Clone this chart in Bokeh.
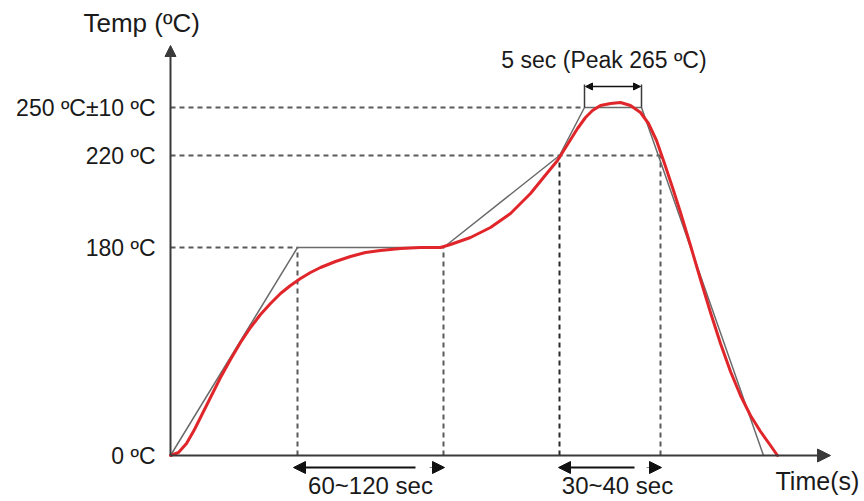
from bokeh.plotting import figure
from bokeh.models import Range1d, Arrow, NormalHead
from bokeh.core.properties import value
from bokeh.embed import file_html
from bokeh.resources import INLINE

# ---------------- data (schematic diagram units, not to scale) ----------------
temp_labels = ["0 ºC", "180 ºC", "220 ºC", "250 ºC±10 ºC"]
temp_levels = [0, 208, 300, 348]          # schematic height of each level
peak_bracket_top = 371

# red reflow profile (schematic time, schematic height)
profile_t = [0, 8, 16, 24, 32, 40, 50, 60, 70, 80, 90, 100, 110, 120, 130, 140, 150,
             165, 180, 195, 210, 230, 250, 270, 280, 300, 320, 340, 360, 373, 387,
             397, 407, 415, 422, 430, 440, 450, 460, 470, 478, 486, 494, 502, 510,
             520, 530, 540, 550, 560, 570, 580, 590, 600, 607]
profile_y = [0, 3, 12, 26, 42, 58, 78, 96, 113, 128, 141, 152, 162, 170, 177, 183, 188,
             194, 199, 203, 205, 207, 208, 208, 211, 218, 228, 242, 262, 278, 295,
             311, 327, 338, 345, 350, 352, 353, 350, 343, 332, 315, 292, 268, 243,
             210, 176, 143, 112, 84, 60, 40, 24, 10, 0]

# grey idealised ramp/soak/peak/cool profile
ramp_t = [0, 127, 273, 389, 414, 471, 593]
ramp_y = [0, 208, 208, 300, 348, 348, 0]

soak_window = [127, 273]   # 60~120 sec
tal_window = [389, 490]    # 30~40 sec (above 220 ºC)
peak_window = [414, 471]   # 5 sec at peak

window_labels = ["60~120 sec", "30~40 sec"]
peak_label = "5 sec (Peak 265 ºC)"
x_title = "Time(s)"
y_title = "Temp (ºC)"
axis_end = [660, 410]

# ---------------- styling ----------------
FONT = value("Liberation Sans")
TXT = "#1a1a1a"
AX = "#3a3a3a"
DASH = "#5a5a5a"
RED = "#e0262a"
GREY = "#6a6a6a"

p = figure(width=864, height=501,
           x_range=Range1d(-170, 694), y_range=Range1d(-46, 455),
           x_axis_type=None, y_axis_type=None,
           toolbar_location=None, output_backend="svg",
           min_border=0, title=None)
p.outline_line_color = None
p.background_fill_color = "white"
p.border_fill_color = "white"

l180, l220, l250 = temp_levels[1], temp_levels[2], temp_levels[3]

# dashed guide lines (horizontal)
p.segment(x0=[0, 0, 0], y0=[l180, l220, l250],
          x1=[soak_window[0], tal_window[1], peak_window[0]], y1=[l180, l220, l250],
          line_color=DASH, line_width=2, line_dash="5 4")
# dashed guide lines (vertical)
p.segment(x0=[soak_window[0], soak_window[1], tal_window[0], tal_window[1]],
          y0=[0, 0, 0, 0],
          x1=[soak_window[0], soak_window[1], tal_window[0], tal_window[1]],
          y1=[l180, l180, l220, l220],
          line_color=[DASH, DASH, "#2a2a2a", DASH], line_width=2, line_dash="5 4")

# grey ideal profile
p.line(ramp_t, ramp_y, line_color=GREY, line_width=1.5)

# peak bracket
p.segment(x0=peak_window, y0=[l250, l250], x1=peak_window,
          y1=[peak_bracket_top, peak_bracket_top], line_color=AX, line_width=1.5)


def head(sz, c=AX):
    return NormalHead(size=sz, fill_color=c, line_color=c)


p.add_layout(Arrow(start=head(7, "#111"), end=head(7, "#111"),
                   x_start=peak_window[0] + 1, y_start=peak_bracket_top - 2,
                   x_end=peak_window[1] - 1, y_end=peak_bracket_top - 2,
                   line_color="#111", line_width=1.5))

# red measured profile
p.line(profile_t, profile_y, line_color=RED, line_width=3, line_join="round",
       line_cap="round")

# axes with arrow heads
p.add_layout(Arrow(end=head(13), x_start=0, y_start=0, x_end=axis_end[0], y_end=0,
                   line_color=AX, line_width=2))
p.add_layout(Arrow(end=head(11), x_start=0, y_start=0, x_end=0, y_end=axis_end[1],
                   line_color=AX, line_width=2))

# window arrows under the time axis
ya = -12
for w, gap, tipoff in ((soak_window, 28, -4), (tal_window, 26, -1)):
    p.add_layout(Arrow(end=head(12, "#111"), x_start=w[1] - gap, y_start=ya,
                       x_end=w[0] + tipoff, y_end=ya, line_color="#111", line_width=2))
    p.add_layout(Arrow(end=head(12, "#111"), x_start=w[1] - 14, y_start=ya,
                       x_end=w[1] + 1, y_end=ya, line_color="#111", line_width=0.5))

# texts
p.text(x=[-15] * len(temp_labels), y=temp_levels, text=temp_labels,
       text_align="right", text_baseline="middle", text_font=FONT,
       text_font_size="23px", text_color=TXT)
p.text(x=[(soak_window[0] + soak_window[1]) / 2, tal_window[0] + 58], y=[-30, -30],
       text=window_labels, text_align="center", text_baseline="middle",
       text_font=FONT, text_font_size="24px", text_color=TXT)
p.text(x=[axis_end[0] - 55], y=[-25], text=[x_title], text_align="left",
       text_baseline="middle", text_font=FONT, text_font_size="25px", text_color=TXT)
p.text(x=[-87], y=[433], text=[y_title], text_align="left",
       text_baseline="middle", text_font=FONT, text_font_size="26px", text_color=TXT)
p.text(x=[(peak_window[0] + peak_window[1]) / 2 - 9], y=[396], text=[peak_label],
       text_align="center", text_baseline="middle", text_font=FONT,
       text_font_size="23px", text_color=TXT)

open("out.html", "w").write(file_html(p, INLINE))
